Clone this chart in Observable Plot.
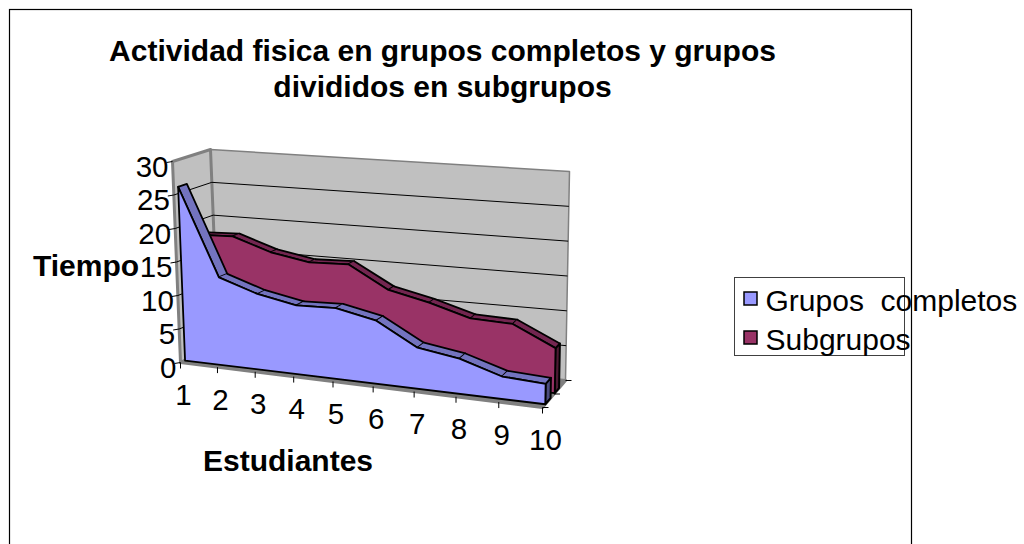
<!DOCTYPE html>
<html><head><meta charset="utf-8">
<script src="https://cdn.jsdelivr.net/npm/d3@7"></script>
<script src="https://cdn.jsdelivr.net/npm/@observablehq/plot@0.6"></script>
<style>html,body{margin:0;padding:0;background:#fff}svg{display:block}</style>
</head><body><div id="c"></div>
<script>
const categories = [1,2,3,4,5,6,7,8,9,10];
const gruposCompletos = [26,13,11.1,10,10.2,9,5.8,4.9,3.1,2.8];
const subgrupos = [18,18.2,16.3,15.3,15.5,12.3,11,9.3,9.1,6.3];
const valueTicks = [0,5,10,15,20,25,30];
const title = ["Actividad fisica en grupos completos y grupos","divididos en subgrupos"];
const legendNames = ["Grupos  completos","Subgrupos"];
const blue="#9999ff", blueTop="#7373bf", blueSide="#4d4d80", red="#993366", redTop="#732650", redSide="#4d1a33";

// Oblique view of the chart box: value, category and depth -> sheet position
const box = {flb:[180,362],flt:[172,161],frb:[542,407],frt:[546,186],blb:[218,346],blt:[210,149],brb:[565,380],brt:[569,171]};
const lerp=(a,b,t)=>[a[0]+(b[0]-a[0])*t,a[1]+(b[1]-a[1])*t];
const view=(cat,v,z)=>{
  const t0=(cat-1)/9, a=0.91, s=t0*a/(1+t0*(a-1)), h=v/30;
  const f=lerp(lerp(box.flb,box.frb,s),lerp(box.flt,box.frt,s),h);
  const b=lerp(lerp(box.blb,box.brb,s),lerp(box.blt,box.brt,s),h);
  return lerp(f,b,z);
};
const poly=(pts,group)=>pts.map(p=>({px:p[0],py:p[1],group}));

function series(vals,z0,z1,prefix){
  const out={tops:[]};
  out.side=poly([view(10,vals[9],z0),view(10,vals[9],z1),view(10,0,z1),view(10,0,z0)],prefix+"side");
  out.front=poly([view(1,0,z0),...categories.map((c,i)=>view(c,vals[i],z0)),view(10,0,z0)],prefix+"front");
  for(let i=0;i<9;i++) out.tops.push(...poly([view(categories[i],vals[i],z0),view(categories[i+1],vals[i+1],z0),view(categories[i+1],vals[i+1],z1),view(categories[i],vals[i],z1)],prefix+i));
  return out;
}
const A=series(subgrupos,0.53,0.72,"r");
const B=series(gruposCompletos,0.12,0.35,"b");

const wallBack=poly([view(1,0,1),view(10,0,1),view(10,30,1),view(1,30,1)],"wb");
const wallLeft=poly([view(1,0,0),view(1,0,1),view(1,30,1),view(1,30,0)],"wl");
const floor=poly([view(1,0,0),view(10,0,0),view(10,0,1),view(1,0,1)],"fl");

const gridSegs=valueTicks.slice(1,-1).flatMap(v=>[
 {a:view(1,v,0),b:view(1,v,1)},{a:view(1,v,1),b:view(10,v,1)}]);
const yTicks=valueTicks.map(v=>{const p=view(1,v,0);return {a:[p[0]-6,p[1]+1],b:p}});
const xTicks=categories.map(c=>{const p=view(c,0,0);return {a:p,b:[p[0],p[1]+6]}});
const zTicks=[0,0.5,1].map(z=>{const p=view(10,0,z);return {a:p,b:[p[0]+6,p[1]-0]}});
const yLabels=valueTicks.map(v=>{const p=view(1,v,0);return {t:String(v),px:p[0]-4,py:p[1]+6}});
const xLabels=categories.map(c=>{const p=view(c,0,0);return {t:String(c),px:p[0]+3,py:p[1]+33}});
const seg=(d,o)=>Plot.link(d,{x1:q=>q.a[0],y1:q=>q.a[1],x2:q=>q.b[0],y2:q=>q.b[1],...o});
const area=(d,fill,stroke,sw)=>Plot.line([...d,d[0]],{x:"px",y:"py",z:"group",fill,stroke,strokeWidth:sw,strokeLinejoin:"round"});
const font="'Liberation Sans',Arial,sans-serif";

const legendItems=legendNames.map((t,i)=>({t,i,fill:[blue,red][i]}));
const txt=(d,o)=>Plot.text(d,{fontFamily:font,fill:"#000",lineAnchor:"middle",...o});

const chart=Plot.plot({
  width:1024,height:544,margin:0,
  x:{domain:[0,1024],range:[0,1024],axis:null},
  y:{domain:[0,544],range:[0,544],axis:null},
  style:{background:"#fff",fontFamily:font},
  marks:[
    Plot.rect([{}],{x1:()=>9.5,x2:()=>911.5,y1:()=>9.5,y2:()=>560,fill:"#fff",stroke:"#000",strokeWidth:1.2}),
    area(wallBack,"#c0c0c0","#808080",1.5),
    area(wallLeft,"#c0c0c0","#808080",3),
    area(floor,"#808080","#808080",3),
    seg(gridSegs,{stroke:"#000",strokeWidth:1}),
    seg(yTicks,{stroke:"#000",strokeWidth:1}),
    seg(xTicks,{stroke:"#000",strokeWidth:1}),
    seg(zTicks,{stroke:"#000",strokeWidth:1}),
    area(A.side,redSide,"#000",2),
    area(A.tops,redTop,"#000",1.8),
    area(A.front,red,"#000",1.8),
    area(B.side,blueSide,"#000",2),
    area(B.tops,blueTop,"#000",1.8),
    area(B.front,blue,"#000",1.8),
    txt(yLabels,{x:"px",y:"py",text:"t",textAnchor:"end",fontSize:29.5}),
    txt(xLabels,{x:"px",y:"py",text:"t",fontSize:29.5}),
    txt(title,{x:()=>442,y:(d,i)=>51+i*36,text:d=>d,fontSize:30,fontWeight:"bold"}),
    txt(["Tiempo"],{x:()=>85.5,y:()=>266,text:d=>d,fontSize:30,fontWeight:"bold"}),
    txt(["Estudiantes"],{x:()=>287.5,y:()=>461,text:d=>d,fontSize:30,fontWeight:"bold"}),
    Plot.rect([{}],{x1:()=>734.5,x2:()=>904.5,y1:()=>277.5,y2:()=>355.5,fill:"none",stroke:"#404040",strokeWidth:1}),
    Plot.rect(legendItems,{x1:()=>744,x2:()=>757,y1:d=>292+d.i*39,y2:d=>305+d.i*39,fill:"fill",stroke:"#000",strokeWidth:1.5}),
    txt(legendItems,{x:()=>765,y:d=>301+d.i*39,text:"t",textAnchor:"start",fontSize:30})
  ]
});
document.getElementById("c").append(chart);
</script></body></html>
